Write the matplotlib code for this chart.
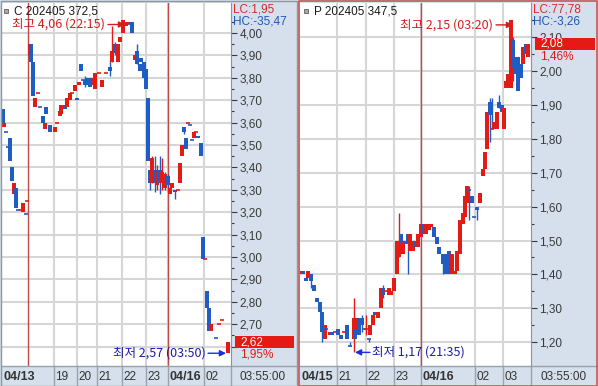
import matplotlib
matplotlib.use("Agg")
import matplotlib.pyplot as plt
import matplotlib.transforms as mtransforms
from matplotlib.patches import Rectangle
from matplotlib.lines import Line2D

W, H = 598, 386
RED = "#e31b14"
BLUE = "#1f5cc4"
PANEL = "#d5e0ec"
GRID = "#d6d6d6"
SEP = "#c04a4a"
KR = ["Noto Sans CJK KR", "DejaVu Sans"]
plt.rcParams["font.family"] = ["Liberation Sans", "DejaVu Sans"]

# ---- call option C 202405 372.5 (bar slot, open, high, low, close) ----
c_slot = [1, 2, 4, 6, 8, 10, 12, 14, 16, 19, 21, 24, 25, 28, 29, 31, 33, 36, 38, 41,
          43, 44, 48, 53, 55, 58, 59, 63, 65, 68, 70, 73, 75, 77, 79, 81, 83, 85, 88, 91,
          93, 97, 100, 104, 108, 110, 113, 116, 118, 121, 124, 127, 128, 130, 133, 135, 138, 139, 142, 144,
          146, 148, 150, 153, 155, 158, 160, 163, 166, 168, 170, 173, 176, 178, 180, 182, 184, 186, 188, 190,
          192, 194, 196, 199, 201, 203, 205, 207, 209, 214, 217, 220, 226]
c_open = [3.66, 3.58, 3.56, 3.49, 3.53, 3.40, 3.28, 3.31, 3.21, 3.21, 3.20, 3.19, 3.25, 3.90, 3.95, 3.87, 3.67, 3.73, 3.67, 3.63,
          3.57, 3.67, 3.59, 3.56, 3.60, 3.63, 3.64, 3.68, 3.67, 3.70, 3.73, 3.74, 3.71, 3.77, 3.86, 3.79, 3.79, 3.80, 3.80, 3.77,
          3.75, 3.82, 3.76, 3.82, 3.85, 3.87, 3.95, 3.87, 3.96, 4.00, 4.03, 4.04, 4.04, 4.05, 3.88, 3.92, 3.86, 3.89, 3.87, 3.84,
          3.71, 3.39, 3.33, 3.39, 3.32, 3.39, 3.33, 3.31, 3.36, 3.28, 3.31, 3.30, 3.30, 3.33, 3.45, 3.58, 3.53, 3.60, 3.59, 3.52,
          3.53, 3.56, 3.54, 3.51, 3.09, 2.99, 2.85, 2.77, 2.67, 2.64, 2.70, 2.72, 2.57]
c_high = [3.66, 3.60, 3.56, 3.49, 3.53, 3.40, 3.33, 3.31, 3.21, 3.21, 3.24, 3.19, 3.25, 3.95, 3.95, 3.87, 3.71, 3.73, 3.67, 3.63,
          3.60, 3.67, 3.59, 3.58, 3.60, 3.65, 3.68, 3.68, 3.71, 3.73, 3.73, 3.77, 3.71, 3.78, 3.86, 3.79, 3.81, 3.80, 3.80, 3.80,
          3.82, 3.82, 3.79, 3.82, 3.88, 4.03, 3.96, 3.95, 3.98, 4.06, 4.05, 4.04, 4.05, 4.05, 3.90, 3.95, 3.86, 3.89, 3.87, 3.84,
          3.71, 3.39, 3.45, 3.45, 3.41, 3.45, 3.44, 3.38, 3.37, 3.31, 3.33, 3.30, 3.30, 3.42, 3.50, 3.58, 3.53, 3.60, 3.59, 3.52,
          3.56, 3.56, 3.54, 3.51, 3.09, 2.99, 2.85, 2.77, 2.70, 2.64, 2.70, 2.72, 2.62]
c_low = [3.60, 3.58, 3.56, 3.49, 3.43, 3.34, 3.28, 3.22, 3.21, 3.21, 3.20, 3.19, 3.25, 3.90, 3.87, 3.72, 3.67, 3.73, 3.67, 3.60,
         3.57, 3.64, 3.56, 3.56, 3.60, 3.63, 3.64, 3.66, 3.67, 3.70, 3.73, 3.74, 3.70, 3.77, 3.83, 3.79, 3.76, 3.77, 3.76, 3.77,
         3.75, 3.82, 3.76, 3.82, 3.81, 3.87, 3.90, 3.87, 3.96, 4.00, 4.03, 4.04, 4.04, 4.00, 3.88, 3.86, 3.83, 3.87, 3.80, 3.75,
         3.43, 3.30, 3.33, 3.29, 3.30, 3.28, 3.30, 3.30, 3.29, 3.28, 3.31, 3.26, 3.30, 3.33, 3.45, 3.55, 3.48, 3.60, 3.59, 3.52,
         3.53, 3.56, 3.53, 3.45, 2.99, 2.99, 2.77, 2.67, 2.67, 2.64, 2.70, 2.72, 2.57]
c_close = [3.60, 3.60, 3.56, 3.49, 3.43, 3.34, 3.33, 3.22, 3.21, 3.21, 3.24, 3.19, 3.25, 3.95, 3.87, 3.72, 3.71, 3.73, 3.67, 3.60,
           3.60, 3.64, 3.56, 3.58, 3.60, 3.65, 3.68, 3.66, 3.71, 3.73, 3.73, 3.77, 3.70, 3.78, 3.83, 3.79, 3.77, 3.77, 3.76, 3.80,
           3.82, 3.82, 3.79, 3.82, 3.83, 3.92, 3.91, 3.95, 3.98, 4.06, 4.05, 4.04, 4.05, 4.00, 3.90, 3.86, 3.83, 3.87, 3.80, 3.75,
           3.43, 3.33, 3.44, 3.33, 3.38, 3.33, 3.38, 3.37, 3.32, 3.31, 3.33, 3.29, 3.30, 3.42, 3.50, 3.56, 3.48, 3.60, 3.59, 3.52,
           3.56, 3.56, 3.53, 3.45, 2.99, 2.99, 2.77, 2.67, 2.70, 2.64, 2.70, 2.72, 2.62]

# ---- put option P 202405 347.5 ----
p_slot = [1, 3, 6, 8, 11, 14, 17, 20, 22, 25, 26, 30, 32, 35, 38, 41, 44, 47, 50, 54,
          55, 57, 59, 62, 64, 66, 69, 70, 73, 75, 78, 81, 83, 86, 89, 91, 94, 97, 99, 101,
          103, 106, 108, 110, 113, 115, 118, 121, 123, 126, 129, 131, 134, 137, 139, 143, 146, 149, 152, 155,
          157, 160, 163, 165, 167, 169, 172, 174, 177, 180, 183, 185, 187, 190, 192, 194, 197, 199, 202, 204,
          206, 208, 211, 213, 216, 218, 221, 223, 226, 228]
p_open = [1.40, 1.41, 1.39, 1.39, 1.40, 1.37, 1.33, 1.32, 1.29, 1.21, 1.24, 1.22, 1.23, 1.23, 1.24, 1.22, 1.23, 1.25, 1.19, 1.21,
          1.24, 1.24, 1.27, 1.27, 1.24, 1.24, 1.21, 1.22, 1.25, 1.29, 1.27, 1.30, 1.36, 1.35, 1.34, 1.34, 1.35, 1.40, 1.45, 1.52,
          1.46, 1.50, 1.52, 1.47, 1.47, 1.50, 1.48, 1.51, 1.55, 1.52, 1.53, 1.54, 1.54, 1.51, 1.48, 1.46, 1.46, 1.47, 1.40, 1.40,
          1.41, 1.46, 1.55, 1.57, 1.61, 1.65, 1.63, 1.57, 1.60, 1.61, 1.69, 1.71, 1.77, 1.91, 1.83, 1.83, 1.83, 1.91, 1.90, 1.83,
          1.95, 1.95, 1.95, 2.09, 2.04, 2.04, 2.02, 2.02, 2.08, 2.04]
p_high = [1.41, 1.41, 1.39, 1.41, 1.40, 1.37, 1.33, 1.32, 1.29, 1.25, 1.24, 1.23, 1.23, 1.23, 1.24, 1.22, 1.23, 1.25, 1.20, 1.33,
          1.24, 1.27, 1.27, 1.28, 1.24, 1.28, 1.21, 1.25, 1.28, 1.29, 1.29, 1.36, 1.37, 1.35, 1.36, 1.35, 1.39, 1.50, 1.58, 1.52,
          1.50, 1.50, 1.52, 1.52, 1.50, 1.50, 1.52, 1.55, 1.55, 1.55, 1.55, 1.55, 1.54, 1.51, 1.48, 1.46, 1.46, 1.47, 1.46, 1.41,
          1.47, 1.56, 1.58, 1.63, 1.66, 1.66, 1.63, 1.57, 1.60, 1.64, 1.71, 1.76, 1.88, 1.92, 1.92, 1.85, 1.88, 1.93, 1.90, 1.89,
          1.97, 1.99, 2.15, 2.10, 2.04, 2.04, 2.02, 2.07, 2.08, 2.08]
p_low = [1.40, 1.40, 1.38, 1.39, 1.36, 1.35, 1.32, 1.29, 1.20, 1.21, 1.24, 1.22, 1.22, 1.23, 1.22, 1.21, 1.23, 1.21, 1.19, 1.17,
         1.21, 1.24, 1.22, 1.23, 1.24, 1.22, 1.20, 1.22, 1.25, 1.28, 1.27, 1.30, 1.33, 1.35, 1.34, 1.34, 1.35, 1.40, 1.45, 1.49,
         1.46, 1.49, 1.40, 1.47, 1.47, 1.48, 1.48, 1.51, 1.52, 1.52, 1.53, 1.54, 1.51, 1.49, 1.46, 1.40, 1.40, 1.40, 1.40, 1.40,
         1.41, 1.46, 1.55, 1.57, 1.61, 1.56, 1.61, 1.57, 1.56, 1.61, 1.69, 1.71, 1.77, 1.79, 1.83, 1.83, 1.83, 1.89, 1.88, 1.83,
         1.95, 1.95, 1.95, 1.97, 1.99, 1.94, 1.98, 2.02, 2.05, 2.04]
p_close = [1.41, 1.40, 1.38, 1.41, 1.38, 1.35, 1.32, 1.29, 1.23, 1.25, 1.24, 1.23, 1.22, 1.23, 1.22, 1.21, 1.23, 1.21, 1.19, 1.27,
           1.21, 1.27, 1.22, 1.25, 1.24, 1.24, 1.21, 1.25, 1.28, 1.28, 1.29, 1.36, 1.34, 1.35, 1.36, 1.35, 1.39, 1.50, 1.50, 1.49,
           1.50, 1.49, 1.50, 1.52, 1.50, 1.48, 1.52, 1.55, 1.52, 1.55, 1.55, 1.55, 1.51, 1.49, 1.46, 1.43, 1.40, 1.40, 1.46, 1.41,
           1.47, 1.56, 1.58, 1.63, 1.66, 1.65, 1.61, 1.57, 1.59, 1.64, 1.71, 1.76, 1.88, 1.87, 1.83, 1.85, 1.88, 1.89, 1.88, 1.89,
           1.97, 1.99, 2.15, 2.01, 1.99, 1.94, 1.98, 2.07, 2.05, 2.08]

# time axis: hour marks (bar slots), labels, day boundaries
c_hour_pos = [52, 75, 95, 120, 144, 166, 202]
c_hour_lab = ["19", "20", "21", "22", "23", "04/16", "02"]
c_start_lab = "04/13"
c_day_pos = [26, 166]
p_hour_pos = [37, 66, 94, 121, 175, 203]
p_hour_lab = ["21", "22", "23", "04/16", "02", "03"]
p_start_lab = "04/15"
p_day_pos = [121]

c_ticks = [2.60 + 0.1 * i for i in range(15)]
p_ticks = [1.20 + 0.1 * i for i in range(10)]

c_title, p_title = "C 202405 372,5", "P 202405 347,5"
c_lc, c_hc, c_pct = "LC:1,95", "HC:-35,47", "1,95%"
p_lc, p_hc, p_pct = "LC:77,78", "HC:-3,26", "1,46%"
c_hi_time, c_lo_time = "22:15", "03:50"
p_hi_time, p_lo_time = "03:20", "21:35"
clock = "03:55:00"


def fmt(v):
    return f"{v:.2f}".replace(".", ",")


fig = plt.figure(figsize=(W / 100, H / 100), dpi=100, facecolor=PANEL)


def px_axes(x0, y0, x1, y1):
    return fig.add_axes([x0 / W, 1 - y1 / H, (x1 - x0) / W, (y1 - y0) / H])


def draw_panel(ax, xs, op, hi, lo, cl, xmax, ylim, ticks, hour_pos, hour_lab,
               start_lab, day_pos, hide_labels=()):
    ax.set_facecolor("white")
    ax.set_xlim(0, xmax)
    ax.set_ylim(*ylim)
    for t in ticks:
        ax.axhline(t, color=GRID, lw=1.5, zorder=0)
    for v in hour_pos:
        ax.axvline(v, color=GRID, lw=1.5, zorder=0)
    for v in day_pos:
        ax.axvline(v, color=SEP, lw=1, zorder=1)

    prev = op[0]
    for x, o, h, l, c in zip(xs, op, hi, lo, cl):
        if c > o:
            col = RED
        elif c < o:
            col = BLUE
        else:
            col = RED if c >= prev else BLUE
        if h > max(o, c) or l < min(o, c):
            ax.vlines(x, l, h, color=col, lw=1, zorder=2)
        if c == o:
            ax.hlines(c, x - 2, x + 2, color=col, lw=1.2, zorder=3)
        else:
            ax.bar(x, abs(c - o), width=3.4, bottom=min(o, c), color=col, lw=0, zorder=3)
        prev = c

    ax.yaxis.tick_right()
    labels = ["" if round(t, 2) in hide_labels else fmt(t) for t in ticks]
    ax.set_yticks(ticks, labels)
    ax.set_yticks([t + 0.05 for t in ticks], minor=True)
    ax.tick_params(axis="y", which="major", direction="out", length=4.5, width=0.8,
                   pad=1.5, colors="#3a3a3a", labelsize=8.5)
    ax.tick_params(axis="y", which="minor", direction="out", length=2.5, width=0.8,
                   colors="#3a3a3a")
    ax.set_xticks([])
    for s in ["top", "left", "bottom"]:
        ax.spines[s].set_visible(False)
    ax.spines["right"].set_color("#8a929c")

    # time strip under the plot
    tr = ax.get_xaxis_transform()
    ax.add_line(Line2D([0, 1.285], [0, 0], transform=ax.transAxes, color="#9aa2ac",
                       lw=1, clip_on=False))
    ax.text(1, -0.029, start_lab, transform=tr, ha="left", va="center",
            fontsize=9, fontweight="bold", color="#333333")
    for v, lab in zip(hour_pos, hour_lab):
        ax.add_line(Line2D([v, v], [0, -0.06], transform=tr, color="#9aa2ac",
                           lw=1, clip_on=False))
        bold = "/" in lab
        ax.text(v + 1.5, -0.029, lab, transform=tr, ha="left", va="center",
                fontsize=9 if bold else 8.5, fontweight="bold" if bold else "normal",
                color="#333333")
    ax.add_line(Line2D([1, 1], [0, -0.06], transform=ax.transAxes, color="#9aa2ac",
                       lw=1, clip_on=False))
    ax.text(1.14, -0.029, clock, transform=ax.transAxes, ha="center", va="center",
            fontsize=8.5, color="#333333")


def price_box(ax, price, pct, half):
    bt = mtransforms.blended_transform_factory(ax.transAxes, ax.transData)
    ax.add_patch(Rectangle((1.017, price - half), 0.258, 2 * half, transform=bt,
                           facecolor=RED, edgecolor="none", clip_on=False, zorder=5))
    ax.text(1.04, price, fmt(price), transform=bt, ha="left", va="center",
            fontsize=8.5, color="white", zorder=6)
    ax.text(1.04, price - 2.0 * half, pct, transform=bt, ha="left", va="center",
            fontsize=8.5, color=RED, zorder=6)


def extremes(ax, xs, hi, lo, hi_time, lo_time, hi_dy, lo_left):
    i = hi.index(max(hi))
    xh, yh = xs[i], hi[i] - hi_dy
    ap = dict(arrowstyle="-|>", color="#d11f1f", lw=1, mutation_scale=9,
              shrinkA=0, shrinkB=0)
    ax.annotate("", xy=(xh + 2, yh), xytext=(xh - 15, yh), arrowprops=ap, zorder=6)
    ax.text(xh - 18, yh, f"최고 {fmt(max(hi))} ({hi_time})", ha="right", va="center",
            fontsize=9, color="#d11f1f", family=KR, zorder=6)
    j = lo.index(min(lo))
    xl, yl = xs[j], lo[j]
    ap = dict(arrowstyle="-|>", color="#1a2ee0", lw=1, mutation_scale=9,
              shrinkA=0, shrinkB=0)
    if lo_left:
        ax.annotate("", xy=(xl - 2, yl), xytext=(xl - 20, yl), arrowprops=ap, zorder=6)
        ax.text(xl - 22, yl, f"최저 {fmt(min(lo))} ({lo_time})", ha="right", va="center",
                fontsize=9, color="#1c1caa", family=KR, zorder=6)
    else:
        ax.annotate("", xy=(xl + 1, yl), xytext=(xl + 16, yl), arrowprops=ap, zorder=6)
        ax.text(xl + 18, yl, f"최저 {fmt(min(lo))} ({lo_time})", ha="left", va="center",
                fontsize=9, color="#1c1caa", family=KR, zorder=6)


def header(x0, title, lc, hc):
    fig.add_artist(Rectangle(((x0 + 4) / W, 1 - 13 / H), 4 / W, 4 / H,
                             facecolor="#a8a8a8", edgecolor="#606060", lw=0.6))
    fig.text((x0 + 14) / W, 1 - 11 / H, title, ha="left", va="center",
             fontsize=8.5, color="#1a1a1a")
    fig.text((x0 + 233) / W, 1 - 10 / H, lc, ha="left", va="center",
             fontsize=8.5, color="#d42a2a")
    fig.text((x0 + 233) / W, 1 - 21.5 / H, hc, ha="left", va="center",
             fontsize=8.5, color="#1f57b5")


# left panel: call
axc = px_axes(2, 3, 231, 366)
draw_panel(axc, c_slot, c_open, c_high, c_low, c_close, 229, (2.513, 4.134), c_ticks,
           c_hour_pos, c_hour_lab, c_start_lab, c_day_pos, hide_labels=(2.60,))
price_box(axc, c_close[-1], c_pct, 0.027)
extremes(axc, c_slot, c_high, c_low, c_hi_time, c_lo_time, 0.022, True)
header(0, c_title, c_lc, c_hc)

# right panel: put
axp = px_axes(300, 3, 531, 366)
draw_panel(axp, p_slot, p_open, p_high, p_low, p_close, 231, (1.1298, 2.2006), p_ticks,
           p_hour_pos, p_hour_lab, p_start_lab, p_day_pos)
price_box(axp, p_close[-1], p_pct, 0.018)
extremes(axp, p_slot, p_high, p_low, p_hi_time, p_lo_time, 0.014, False)
header(300, p_title, p_lc, p_hc)

# frames
fig.add_artist(Rectangle((0.5 / W, 0.5 / H), 296.5 / W, 385 / H, fill=False,
                         edgecolor="#8f979f", lw=1))
fig.add_artist(Rectangle((298.5 / W, 0.5 / H), 298 / W, 385 / H, fill=False,
                         edgecolor="#c05a5a", lw=1.2))

fig.savefig("out.png", dpi=100, facecolor=PANEL)
